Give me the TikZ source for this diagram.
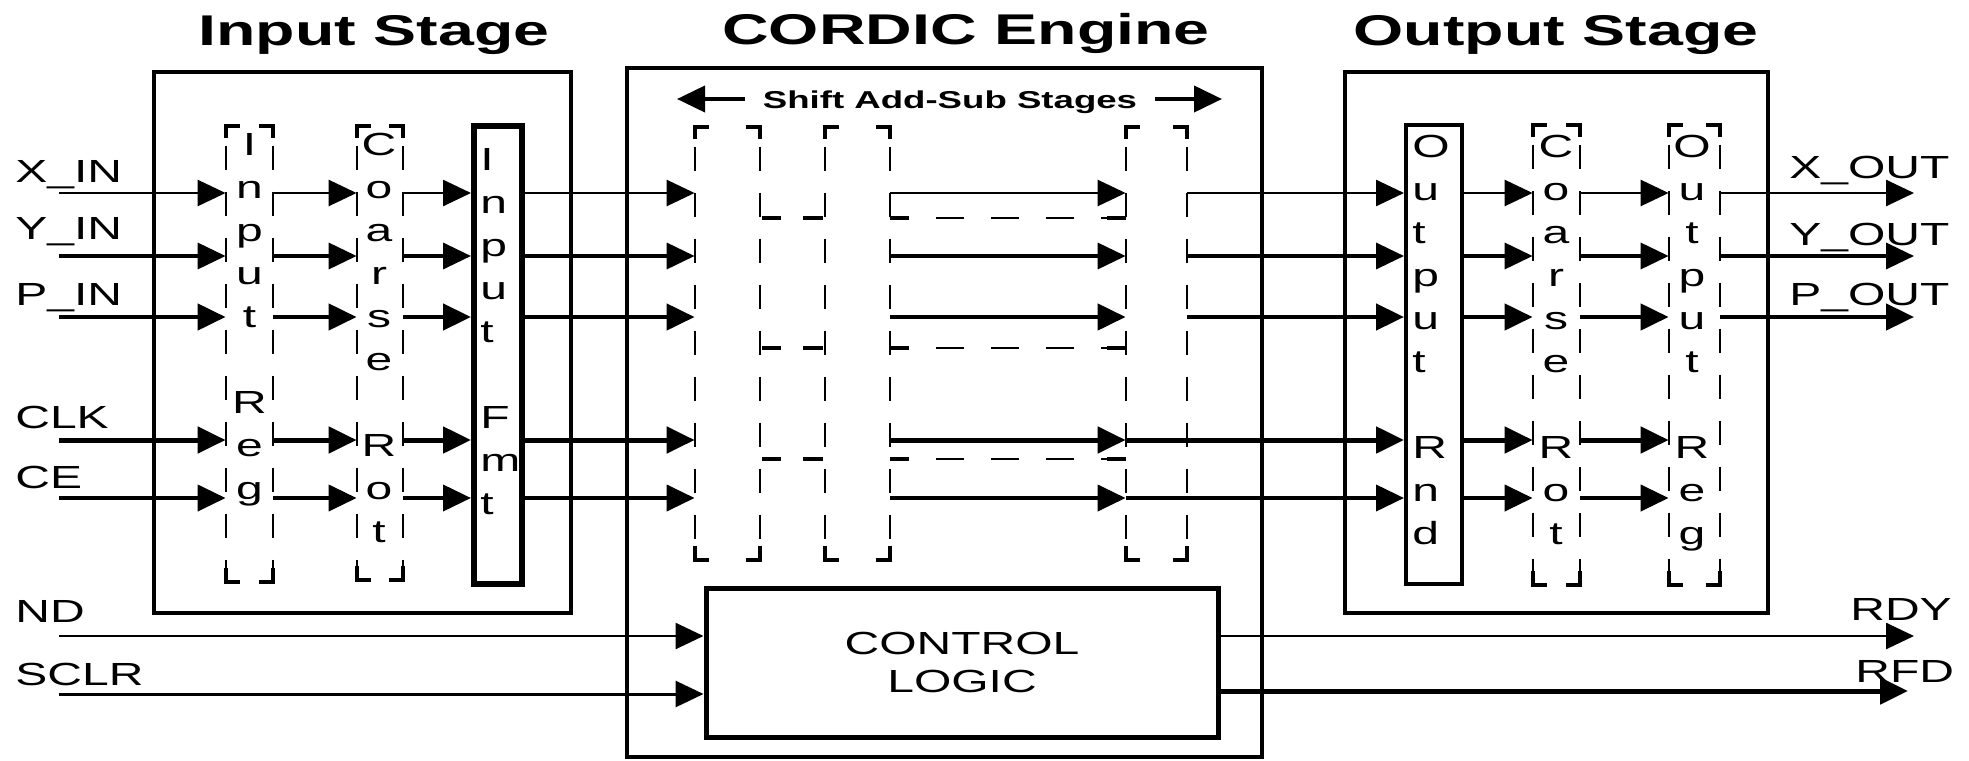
\documentclass[tikz,border=0pt]{standalone}
\usepackage{fontspec}
\setmainfont{Liberation Sans}[FakeStretch=1.5]
\usetikzlibrary{arrows.meta,fit}

\begin{document}
\begin{tikzpicture}[x=0.5pt,y=-0.5pt,
  lbl/.style={font=\fontsize{16}{19}\selectfont, inner sep=0pt},
  ttl/.style={font=\fontsize{21.5}{25}\selectfont\bfseries, inner sep=0pt},
  stagebox/.style={draw, line width=2pt, inner sep=0pt},
  solidreg/.style={draw, inner sep=0pt},
  regbox/.style={inner sep=0pt},
  regside/.style={line width=1pt, dash pattern=on 12pt off 11pt, dash phase=13pt},
  corner/.style={line width=2pt},
  gapdash/.style={line width=1pt, dash pattern=on 14pt off 13.5pt, dash phase=4.5pt},
  sig/.style={-{Triangle[length=14pt,width=13pt]}}]
\useasboundingbox (0,0) rectangle (1969,760);

% titles
\node[ttl, anchor=base] (tin) at (374,45) {Input Stage};
\node[ttl, anchor=base] (tcordic) at (966,44) {CORDIC Engine};
\node[ttl, anchor=base] (tout) at (1556,45) {Output Stage};

% stage boxes
\node[stagebox, fit={(154,72) (571,613)}] (instage) {};
\node[stagebox, fit={(627,68) (1262,757)}] (cordic) {};
\node[stagebox, fit={(1345,72) (1768,613)}] (outstage) {};

% dashed registers and add-sub stages
\foreach \n/\l/\t/\r/\b in {ireg/226/126/273/582, irot/357/126/403/580,
    s1/695/127/760/560, s2/825/127/890/560, s3/1126/127/1187/560,
    orot/1533/125/1580/585, oreg/1669/125/1720/585} {
  \node[regbox, fit={(\l,\t) (\r,\b)}] (\n) {};
  \draw[regside] (\n.north west) -- (\n.south west) (\n.north east) -- (\n.south east);
  \draw[corner] ([yshift=-6pt]\n.north west) |- ([xshift=7pt]\n.north west);
  \draw[corner] ([yshift=-6pt]\n.north east) |- ([xshift=-7pt]\n.north east);
  \draw[corner] ([yshift=7pt]\n.south west) |- ([xshift=7pt]\n.south west);
  \draw[corner] ([yshift=7pt]\n.south east) |- ([xshift=-7pt]\n.south east);
}
\node[solidreg, line width=3pt, fit={(474,126) (522,584)}] (ifmt) {};
\node[solidreg, line width=2pt, fit={(1406,125) (1462,584)}] (ornd) {};

% dashed separators between the stages
\foreach \y in {218,348,459} {
  \draw[gapdash] (890,\y) -- (1126,\y);
  \foreach \a/\b in {762/781, 803/823, 890/909, 1107/1126} \draw[corner] (\a,\y) -- (\b,\y);
}

% vertical letters
\foreach \n/\x/\y/\a/\txt in {ireg/249.5/155/base/{I,n,p,u,t,,R,e,g},
    irot/379/155/base/{C,o,a,r,s,e,,R,o,t},
    ifmt/480/170/base west/{I,n,p,u,t,,F,m,t},
    ornd/1412/157/base west/{O,u,t,p,u,t,,R,n,d},
    orot/1556/157/base/{C,o,a,r,s,e,,R,o,t},
    oreg/1692/157/base/{O,u,t,p,u,t,,R,e,g}} {
  \foreach \c [count=\k from 0] in \txt
    \node[lbl, anchor=\a] (\n-\k) at (\x,\y+43.1*\k) {\c};
}

% control logic
\node[solidreg, line width=2.5pt, minimum width=256pt, minimum height=74.5pt,
  align=center, font=\fontsize{16}{19}\selectfont] (ctrl) at (962,662.5) {CONTROL\\LOGIC};

% shift add-sub label
\node[lbl, font=\fontsize{12.2}{15}\selectfont\bfseries, anchor=base, inner xsep=9pt] (shiftlbl) at (950,108) {Shift Add-Sub Stages};
\coordinate (shl) at (677,99);
\coordinate (shr) at (1222,99);
\draw[sig, line width=2pt] (shiftlbl.west |- shl) -- (shl);
\draw[sig, line width=2pt] (shiftlbl.east |- shr) -- (shr);

% data and clock rows
\foreach \r/\y/\w/\sa in {xr/193/1.3pt/east, yr/256/1.8pt/east, pr/317/2.3pt/east,
    clkr/440/2.5pt/west, cer/498/2pt/west} {
  \coordinate (in-\r) at (59,\y);
  \draw[sig, line width=\w] (in-\r) -- (ireg.west |- in-\r);
  \foreach \a/\b in {ireg/irot, irot/ifmt, ifmt/s1, s2/s3, ornd/orot, orot/oreg}
    \draw[sig, line width=\w] (\a.east |- in-\r) -- (\b.west |- in-\r);
  \draw[sig, line width=\w] (s3.\sa |- in-\r) -- (ornd.west |- in-\r);
}
\foreach \r/\w in {xr/1.3pt, yr/1.8pt, pr/2.3pt} {
  \coordinate (out-\r) at (in-\r -| 1914,0);
  \draw[sig, line width=\w] (oreg.east |- in-\r) -- (out-\r);
}
\node[lbl, anchor=base west] (lxin) at (15,182) {X\_IN};
\node[lbl, anchor=base west] (lyin) at (15,239) {Y\_IN};
\node[lbl, anchor=base west] (lpin) at (15,305) {P\_IN};
\node[lbl, anchor=base west] (lclk) at (15,428) {CLK};
\node[lbl, anchor=base west] (lce) at (15,488) {CE};
\node[lbl, anchor=base west] (lnd) at (15,622) {ND};
\node[lbl, anchor=base west] (lsclr) at (15,685) {SCLR};
\node[lbl, anchor=base west] (lxout) at (1789,178) {X\_OUT};
\node[lbl, anchor=base west] (lyout) at (1789,245) {Y\_OUT};
\node[lbl, anchor=base west] (lpout) at (1789,305) {P\_OUT};
\node[lbl, anchor=base west] (lrdy) at (1850,620) {RDY};
\node[lbl, anchor=base west] (lrfd) at (1855,682) {RFD};

% control rows
\coordinate (in-nd) at (59,636);
\coordinate (in-sclr) at (59,694);
\coordinate (out-rdy) at (1914,636);
\coordinate (out-rfd) at (1908,691);
\draw[sig, line width=1.3pt] (in-nd) -- (ctrl.west |- in-nd);
\draw[sig, line width=1.5pt] (in-sclr) -- (ctrl.west |- in-sclr);
\draw[sig, line width=1.3pt] (ctrl.east |- out-rdy) -- (out-rdy);
\draw[sig, line width=2.5pt] (ctrl.east |- out-rfd) -- (out-rfd);
\end{tikzpicture}
\end{document}
